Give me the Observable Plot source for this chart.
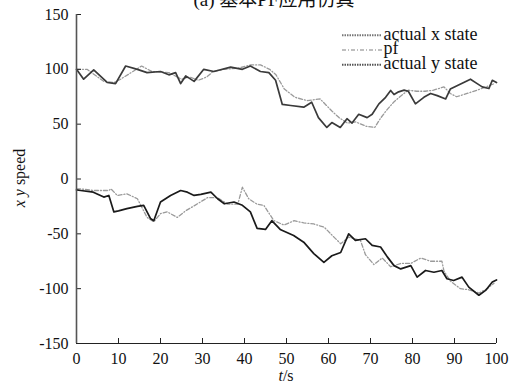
<!DOCTYPE html>
<html><head><meta charset="utf-8">
<script src="https://cdn.jsdelivr.net/npm/d3@7"></script>
<script src="https://cdn.jsdelivr.net/npm/@observablehq/plot@0.6"></script>
<style>
body{margin:0;background:#fff;}
#wrap{position:relative;width:513px;height:386px;overflow:hidden;font-family:"Liberation Serif","Times New Roman",serif;color:#111}
#title{position:absolute;left:0;width:548px;top:-16px;text-align:center;font-family:"Liberation Serif","Noto Sans CJK SC";font-size:19px;white-space:nowrap}
#ylab{position:absolute;left:20px;top:178px;transform:translate(-50%,-50%) rotate(-90deg);font-size:16px;white-space:nowrap}
#xlab{position:absolute;left:286px;top:367px;transform:translateX(-50%);font-size:16px;line-height:17px}
#legend{position:absolute;left:0;top:0;overflow:visible}
#legend text{font-family:"Liberation Serif","Times New Roman",serif;font-size:18px;fill:#111}
</style>
</head><body><div id="wrap"><div id="title">(a) 基本PF应用仿真</div></div>
<script>
const xTicks = [0,10,20,30,40,50,60,70,80,90,100];
const yTicks = [-150,-100,-50,0,50,100,150];
const legendNames = ["actual x state", "pf", "actual y state"];

const tActX = [0,1.7,4.1,7.3,9.3,11.7,14.5,16.8,20,22,23.6,24.8,26,28,30.3,32.7,36.7,39.5,41.4,43.8,45.8,47.4,49,51,54.1,56,57.6,59.6,60.8,62.8,64.4,65.6,67.2,69.2,70.4,72,73.6,74.8,75.6,76.7,78,79,80.7,82.7,84.3,85.9,87.9,89,90.6,92.2,93.8,95.4,96.6,98.2,99,100];
const vActX = [100,91,99.5,88,87,103,100,97,98,95,97,87,94,89,100,98,102,100,103,98,97,90,68,67,65.5,70,56,47,51.5,47,55,51,59,56,59,68.5,74.5,80.7,77,79.5,81,80,68.5,74.5,78,76,73,82,85,88,91,87,84,82.5,90,88];

const tPfX = [0,2.5,6.5,9,10.5,13,15.5,18,22,25,27,29,31,32.5,35,38.5,41.5,43.8,46,47.5,49.5,52,55,58,60.8,62.5,64.5,66.5,69,71,72.5,74,75.5,77.3,79,81,83,85,87.5,89,90.5,93,95.4,97.5,99.5];
const vPfX = [100,100,89,88,91,97,103,98,97,91,93,90,93,98,100,101,104,104,100,95,82,74.5,71.5,73,62,56,51,52,48,47,56,63.5,70,76,81,80,80,81,84,78,75,78,81,84,87];

const tActY = [0,1,4,6.5,7.7,8.9,10,12,14.5,16,17.6,18.4,20,22.4,24.8,26.4,28,29.6,32,33.6,35.2,37.5,39.5,41.4,43,45,46.5,48.5,51.7,54.1,56.5,58.9,60.8,62.9,64.8,66.4,68.8,70.4,72.4,74,75.6,77.2,79.6,81.1,83.1,85.1,87,88.2,89.8,91.8,93.4,95.8,97.4,99,100];
const vActY = [-10,-10.5,-12,-16.5,-15,-30,-29,-27,-25,-24,-36,-38,-21,-15,-10.5,-12,-15,-14,-12,-18,-22.6,-21,-24,-30,-45,-46,-38,-46,-51.5,-57.6,-68,-76,-70,-67,-50,-56,-54.5,-60.6,-62,-71,-79,-82,-79,-89.5,-83.4,-85,-83.4,-91,-92.6,-89.5,-98.6,-106,-101.6,-94,-92];

const tPfY = [0,1,4,7.7,8.2,9.7,12,14.5,16.8,18.4,20,21.6,24,26,28,31.2,33.6,36,38.4,39.5,41,43,44.6,47,49.4,51.8,54.1,56.5,59,61.3,62.9,64.8,67.6,68.8,70.8,72.8,74.8,77.2,79.6,82,84.3,87,87.5,89,91.4,93.4,95.8,97.8,99.4];
const vPfY = [-9,-9,-10.5,-10.5,-9,-15,-13.5,-18,-35,-39,-31.6,-30,-35,-29,-24.5,-17,-17,-23,-23,-7.5,-18,-23,-24,-38,-42,-38,-40,-41,-44,-53,-59,-53,-56,-69,-78,-72,-80,-77,-77,-72,-75,-75,-84,-93,-100,-101,-104,-100,-95];

const series = [
  {t:tActX, v:vActX, stroke:"#3a3a3a", width:1.7, dash:null},
  {t:tPfX, v:vPfX, stroke:"#9a9a9a", width:1.3, dash:"4,2,1,2"},
  {t:tActY, v:vActY, stroke:"#1a1a1a", width:1.7, dash:null},
  {t:tPfY, v:vPfY, stroke:"#9a9a9a", width:1.3, dash:"4,2,1,2"}
];

const lineMarks = series.map(s => Plot.line(s.t.map((t,i)=>({t, v:s.v[i]})), {
  x:"t", y:"v", stroke:s.stroke, strokeWidth:s.width, strokeDasharray:s.dash, curve:"linear"
}));

const chart = Plot.plot({
  width:513, height:386,
  marginLeft:76, marginRight:17, marginTop:14, marginBottom:43,
  style:{fontFamily:"'Liberation Serif', 'Times New Roman', serif", fontSize:"16px", color:"#111", background:"transparent"},
  x:{domain:[0,100]},
  y:{domain:[-150,150]},
  marks:[
    ...lineMarks.slice().reverse(),
    Plot.axisX({ticks:xTicks, tickSize:-5, tickPadding:14, tickFormat:d=>String(d), label:null, fontSize:16, stroke:"#222"}),
    Plot.axisY({ticks:yTicks, tickSize:-5, tickPadding:13, tickFormat:d=>String(d), label:null, fontSize:16, stroke:"#222"}),
    Plot.ruleX([0], {stroke:"#555", strokeWidth:1.6}),
    Plot.ruleY([-150], {stroke:"#222", strokeWidth:1.2})
  ]
});
chart.querySelectorAll("text, g").forEach(el => {
  el.style.fontFamily = "'Liberation Serif', 'Times New Roman', serif";
  el.style.fontVariant = "normal";
});
const wrap = document.getElementById("wrap");
chart.style.position="absolute"; chart.style.left="0"; chart.style.top="0";
wrap.appendChild(chart);

const ylab = document.createElement("div"); ylab.id="ylab";
ylab.innerHTML = "<i>x</i> <i>y</i> speed"; wrap.appendChild(ylab);
const xlab = document.createElement("div"); xlab.id="xlab";
xlab.innerHTML = "<i>t</i>/s"; wrap.appendChild(xlab);

// legend
const legendStyles = [
  {stroke:"#777", width:2, dash:"1.5,1"},
  {stroke:"#aaa", width:1.3, dash:"4,2,1,2"},
  {stroke:"#555", width:2, dash:"1.5,1"}
];
const NS = "http://www.w3.org/2000/svg";
const leg = document.createElementNS(NS, "svg");
leg.setAttribute("id","legend"); leg.setAttribute("width","513"); leg.setAttribute("height","386");
legendNames.forEach((name,i)=>{
  const st = legendStyles[i];
  const yc = 35.3 + i*14.7;
  const ln = document.createElementNS(NS,"line");
  ln.setAttribute("x1",342); ln.setAttribute("x2",382);
  ln.setAttribute("y1",yc); ln.setAttribute("y2",yc);
  ln.setAttribute("stroke",st.stroke); ln.setAttribute("stroke-width",st.width);
  ln.setAttribute("stroke-dasharray",st.dash);
  leg.appendChild(ln);
  const tx = document.createElementNS(NS,"text");
  tx.setAttribute("x",383.5); tx.setAttribute("y",yc+4.2);
  tx.textContent = name;
  leg.appendChild(tx);
});
wrap.appendChild(leg);
</script>
</body></html>
